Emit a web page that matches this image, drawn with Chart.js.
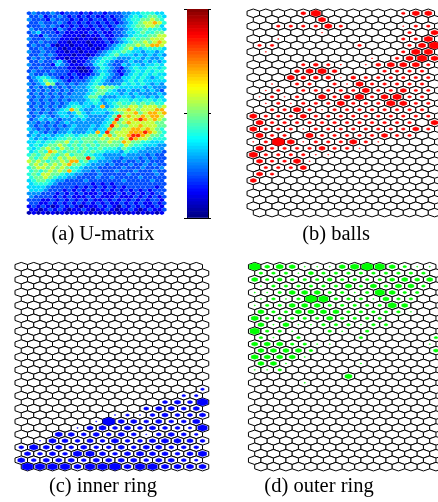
<!DOCTYPE html>
<html>
<head>
<meta charset="utf-8">
<script src="https://cdn.jsdelivr.net/npm/chart.js@4.4.1/dist/chart.umd.min.js"></script>
<style>
html, body { margin: 0; padding: 0; background: #fff; }
#fig { position: relative; width: 438px; height: 502px; overflow: hidden; }
canvas { position: absolute; }
.cap { position: absolute; font-family: "Liberation Serif", "Times New Roman", serif; font-size: 20.5px;
       line-height: 1; color: #000; white-space: nowrap; transform: translateX(-50%); }
</style>
</head>
<body>
<div id="fig">
  <canvas id="umat" width="182" height="225" style="left:0;top:0"></canvas>
  <canvas id="cbar" width="27" height="211" style="left:184px;top:8px"></canvas>
  <canvas id="balls" width="219" height="225" style="left:219px;top:0"></canvas>
  <canvas id="inner" width="219" height="225" style="left:0;top:250px"></canvas>
  <canvas id="outer" width="219" height="225" style="left:219px;top:250px"></canvas>
  <div class="cap" style="left:103px;top:223px">(a) U-matrix</div>
  <div class="cap" style="left:336px;top:223px">(b) balls</div>
  <div class="cap" style="left:103px;top:475px">(c) inner ring</div>
  <div class="cap" style="left:319px;top:475px">(d) outer ring</div>
</div>
<script>
// U-matrix, 63 x 29 cells, one digit per cell (colour level 0..9)
const umatRows = [
  "23222321222121221222334455544",
  "22312232121212112122345456654",
  "32221322212121221212345566765",
  "22322232121212121212345677875",
  "22232321212121212123345667764",
  "32222132121111212122345565554",
  "23422212111112121122344565566",
  "22132221111011121122345556677",
  "32223221110111012123456566777",
  "22322211011101112123456676787",
  "23223101101110111234566767887",
  "22322210110111012345674455554",
  "32232211011011123455654434434",
  "22323211101101234564443434343",
  "23232211011112345543334434334",
  "22322342101123454322343343434",
  "32222143211122454322434434454",
  "22322222110012354321345445545",
  "23222322211001344321234545455",
  "32232222121112354321345454544",
  "23454321212123454322445454345",
  "23465432122234543233454544444",
  "32347623232334543333545454343",
  "23232323233345676654444434333",
  "32323232323334566543343343432",
  "23232323233345664443434333343",
  "32323232333346643334443443434",
  "23232323233345534445545455454",
  "32323232344344543456556565655",
  "23232323455443483456677677767",
  "32323234586433444567787677788",
  "23232344346434443456778678878",
  "32343234434543333469787787887",
  "23434323343433334596778987876",
  "33232323433333334586787777766",
  "32323232343334345976677877766",
  "43232323343334344866778878765",
  "34323233433344849677788898765",
  "34344344554556657867789987665",
  "43434455655666676776798776555",
  "44545566756566566766876655444",
  "45456676565656566665765544433",
  "54567657656565565554654443333",
  "45658765665656554443544333332",
  "56567656756655443333433332322",
  "65676576776696443332333232322",
  "76765667688564433322322323222",
  "67676767866543332322232232322",
  "56776767655433322222322232223",
  "56567676854332322232223222322",
  "56577665443322232222232222232",
  "56676544332222322322222322222",
  "45665433222232222222322222322",
  "45554322222221212122222222222",
  "44443222221212121212122222212",
  "44432221212121212121212121222",
  "33322212121211121112121212122",
  "32222121211121211121112121212",
  "22211212121212112121212121221",
  "22112121212121212112121211212",
  "12121012121011121210212121121",
  "11012121011210112101121012112",
  "01010101011010101010101010101"
];

// hit counts per map unit (32 rows x 15 cols), '.' = none, 1..9 = marker size
const ballRows = [
  "....37......255", ".....5.........", "..222252....122", ".....1......2.5",
  "..1.........226", "22......2...258", ".1..........266", ".........1.2575",
  "....2321.135552", "...3563...2222.", "...533313222222", ".1.22.21522222.",
  ".12.22222522422", "1212.524625622.", ".12122252226522", ".2252122222222.",
  "522242222222222", "5222222222222.5", "522212222222242", "522.522222422..",
  "12951222521....", "522224221......", "6222211........", "42251..........",
  ".2224..........", "42.............", "4..............", "...............",
  "...............", "...............", "...............", "..............."
];
const innerRows = [
  "...............", "...............", "...............", "...............",
  "...............", "...............", "...............", "...............",
  "...............", "...............", "...............", "...............",
  "...............", "...............", "...............", "...............",
  "...............", "...............", "...............", "..............2",
  ".............22", "...........3438", "..........34434", ".......12134334",
  "......194434335", "....14534343327", "...543434313432", ".15434353345543",
  "364434334344333", "434366434544346", "534443444434432", "877757785775555"
];
const outerRows = [
  "835411146874211", "22213222222222.", "423222322223434", "12222224242442.",
  "11244422127422.", "1212872221422..", "1224442222264..", "4224444222221..",
  "52222242222....", "41411222122....", "7221..21.2.....", "21.2....2.....2",
  "4442211.......1", "44442.........3", "54441..........", "441.....1......",
  "112............", ".......5.......", "....1..........", "...............",
  "...............", "...............", "...............", "...............",
  "...............", "...............", "...............", "...............",
  "...............", "...............", "...............", "..............."
];

const uLevels = [0.05, 0.12, 0.2, 0.27, 0.34, 0.41, 0.48, 0.57, 0.7, 0.84];
const hitScale = [0, 0.1, 0.27, 0.37, 0.47, 0.55, 0.65, 0.75, 0.85, 0.95];
const colorbarSteps = 64;
const colorbarTicks = [0, 32, 64];

function jet(v) {
  const c = t => Math.round(255 * Math.max(0, Math.min(1, 1.5 - Math.abs(4 * v - t))));
  return `rgb(${c(3)},${c(2)},${c(1)})`;
}

// hexagonal lattice: odd rows shifted half a unit to the right
function cells(rows, nCols) {
  const out = [];
  rows.forEach((row, r) => {
    for (let c = 0; c < nCols; c++) {
      out.push({ x: c + (r % 2) * 0.5, y: r, level: row[c] || '.' });
    }
  });
  return out;
}

// draws each point as a pointy-top hexagon sized to the lattice spacing
const hexPlugin = {
  id: 'hexCells',
  afterDatasetsDraw(chart) {
    const ctx = chart.ctx;
    const xs = chart.scales.x, ys = chart.scales.y;
    const dx = Math.abs(xs.getPixelForValue(1) - xs.getPixelForValue(0));
    const h = Math.abs(ys.getPixelForValue(1) - ys.getPixelForValue(0)) / 0.75;
    ctx.save();
    chart.data.datasets.forEach((ds, di) => {
      chart.getDatasetMeta(di).data.forEach((pt, i) => {
        const s = ds.data[i].s;
        const hw = dx / 2 * s, hh = h / 2 * s;
        ctx.beginPath();
        ctx.moveTo(pt.x, pt.y - hh);
        ctx.lineTo(pt.x + hw, pt.y - hh / 2);
        ctx.lineTo(pt.x + hw, pt.y + hh / 2);
        ctx.lineTo(pt.x, pt.y + hh);
        ctx.lineTo(pt.x - hw, pt.y + hh / 2);
        ctx.lineTo(pt.x - hw, pt.y - hh / 2);
        ctx.closePath();
        ctx.fillStyle = pt.options.backgroundColor;
        ctx.fill();
        if (pt.options.borderWidth > 0) {
          ctx.lineWidth = pt.options.borderWidth;
          ctx.strokeStyle = pt.options.borderColor;
          ctx.stroke();
        }
      });
    });
    ctx.restore();
  }
};

function hexChart(id, geo, datasets) {
  const cv = document.getElementById(id);
  return new Chart(cv, {
    type: 'scatter',
    data: { datasets },
    plugins: [hexPlugin],
    options: {
      responsive: false,
      animation: false,
      events: [],
      plugins: { legend: { display: false }, tooltip: { enabled: false } },
      scales: {
        x: { type: 'linear', display: false, min: -geo.x0 / geo.dx, max: (cv.width - geo.x0) / geo.dx },
        y: { type: 'linear', display: false, reverse: true, min: -geo.y0 / geo.dy, max: (cv.height - geo.y0) / geo.dy }
      }
    }
  });
}

// (a) U-matrix
const uCells = cells(umatRows, 29);
hexChart('umat', { x0: 29.0, y0: 13.2, dx: 4.746, dy: 3.22 }, [{
  data: uCells.map(p => ({ x: p.x, y: p.y, s: 0.96 })),
  pointRadius: 0,
  pointBackgroundColor: uCells.map(p => jet(uLevels[+p.level])),
  pointBorderWidth: 0
}]);

// hit maps on the 32 x 15 grid
function hitsChart(id, geo, rows, color) {
  const all = cells(rows, 15);
  const hits = all.filter(p => p.level !== '.');
  hexChart(id, geo, [
    {
      data: all.map(p => ({ x: p.x, y: p.y, s: 1 })),
      pointRadius: 0,
      pointBackgroundColor: '#fff',
      pointBorderColor: '#000',
      pointBorderWidth: 1
    },
    {
      data: hits.map(p => ({ x: p.x, y: p.y, s: hitScale[+p.level] })),
      pointRadius: 0,
      pointBackgroundColor: color,
      pointBorderColor: color,
      pointBorderWidth: 0.5
    }
  ]);
}
hitsChart('balls', { x0: 34.3, y0: 13.3, dx: 12.5, dy: 6.43 }, ballRows, '#ff0000');
hitsChart('inner', { x0: 21.25, y0: 16.7, dx: 12.5, dy: 6.45 }, innerRows, '#0000ff');
hitsChart('outer', { x0: 35.7, y0: 16.7, dx: 12.5, dy: 6.45 }, outerRows, '#00ff00');

// colour bar
const sideAxis = pos => ({
  position: pos, stacked: true, min: 0, max: colorbarSteps,
  ticks: { display: false },
  grid: { drawOnChartArea: false, tickLength: 3, color: '#000' },
  border: { display: true, color: '#000', width: 1 },
  afterBuildTicks: s => { s.ticks = colorbarTicks.map(v => ({ value: v })); }
});
const endAxis = pos => ({
  type: 'category', position: pos, stacked: true,
  ticks: { display: false },
  grid: { display: false, drawTicks: false },
  border: { display: true, color: '#000', width: 1 }
});
new Chart(document.getElementById('cbar'), {
  type: 'bar',
  data: {
    labels: [''],
    datasets: Array.from({ length: colorbarSteps }, (_, i) => ({
      data: [1],
      backgroundColor: jet((i + 0.5) / colorbarSteps),
      borderWidth: 0,
      barPercentage: 1,
      categoryPercentage: 1
    }))
  },
  options: {
    responsive: false,
    animation: false,
    events: [],
    layout: { padding: { top: 1, bottom: 1 } },
    plugins: { legend: { display: false }, tooltip: { enabled: false } },
    scales: { x: endAxis('bottom'), x2: endAxis('top'), y: sideAxis('left'), y2: sideAxis('right') }
  }
});
</script>
</body>
</html>
